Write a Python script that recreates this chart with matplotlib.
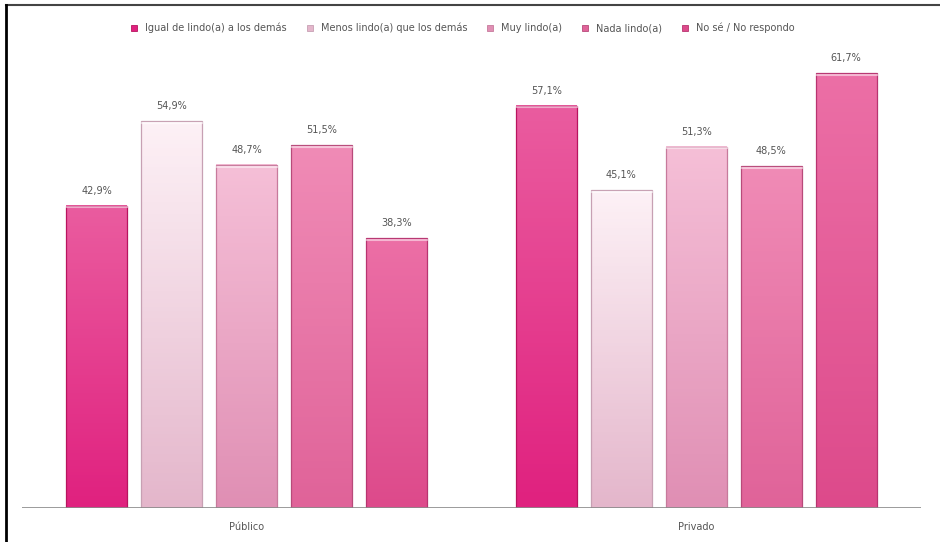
import numpy as np
import matplotlib.pyplot as plt
from matplotlib.colors import LinearSegmentedColormap
from matplotlib.patches import Rectangle
from matplotlib.lines import Line2D

# Data
groups = ['Público', 'Privado']
series = ['Igual de lindo(a) a los demás', 'Menos lindo(a) que los demás',
          'Muy lindo(a)', 'Nada lindo(a)', 'No sé / No respondo']
publico = [42.9, 54.9, 48.7, 51.5, 38.3]
privado = [57.1, 45.1, 51.3, 48.5, 61.7]
labels_publico = ['42,9%', '54,9%', '48,7%', '51,5%', '38,3%']
labels_privado = ['57,1%', '45,1%', '51,3%', '48,5%', '61,7%']

# (top colour, bottom colour, edge colour) for each series
colors = [('#ea5c9f', '#e0217f', '#b8145f'),
          ('#fdf1f6', '#e4b6cb', '#c7a0b3'),
          ('#f5bfd7', '#e08fb4', '#c77a9c'),
          ('#f08bb6', '#e06399', '#b84a7a'),
          ('#ec6fa6', '#dd4a8b', '#b83470')]

fig = plt.figure(figsize=(9.4, 5.42), dpi=100)
ax = fig.add_axes([22 / 940, 34 / 542, 899 / 940, 458 / 542])
ax.set_xlim(-0.5, 1.5)
ax.set_ylim(0, 65)

width = 0.1356
step = 0.1667
values = [publico, privado]
labels = [labels_publico, labels_privado]
grad = np.linspace(1, 0, 100).reshape(-1, 1)

for g in range(len(groups)):
    for i in range(len(series)):
        x = g + (i - 2) * step
        h = values[g][i]
        top, bottom, edge = colors[i]
        cmap = LinearSegmentedColormap.from_list('c%d' % i, [bottom, top])
        ax.imshow(grad, cmap=cmap, extent=[x - width / 2, x + width / 2, 0, h],
                  aspect='auto', origin='upper', zorder=2, vmin=0, vmax=1)
        ax.add_patch(Rectangle((x - width / 2, 0), width, h, fill=False,
                               edgecolor=edge, lw=0.9, zorder=3))
        # lighter cap at top of bar
        ax.plot([x - width / 2, x + width / 2], [h - 0.25, h - 0.25],
                color='white', alpha=0.5, lw=1.5, zorder=4)
        ax.text(x, h + 1.4, labels[g][i], ha='center', va='bottom',
                fontsize=7, color='#555555')

ax.axhline(0, color='#8a8a8a', lw=1.2, zorder=5)
ax.set_xticks([0, 1])
ax.set_xticklabels(groups, fontsize=7, color='#555555')
ax.tick_params(axis='x', length=0, pad=10)
ax.set_yticks([])
for s in ax.spines.values():
    s.set_visible(False)

handles = [Line2D([0], [0], marker='s', ls='none', markersize=5,
                  markerfacecolor=c[1], markeredgecolor=c[2], markeredgewidth=0.6)
           for c in colors]
fig.legend(handles, series, loc='center', bbox_to_anchor=(0.489, 1 - 28 / 542),
           ncol=5, frameon=False, fontsize=7, handletextpad=0.1,
           columnspacing=1.4, labelcolor='#555555')

# frame lines at top and left of the picture
fig.add_artist(Line2D([6 / 940, 1], [1 - 5 / 542, 1 - 5 / 542],
                      color='#444444', lw=1.5, transform=fig.transFigure))
fig.add_artist(Line2D([6 / 940, 6 / 940], [0, 1 - 5 / 542],
                      color='black', lw=2, transform=fig.transFigure))

fig.savefig('out.png', dpi=100)
